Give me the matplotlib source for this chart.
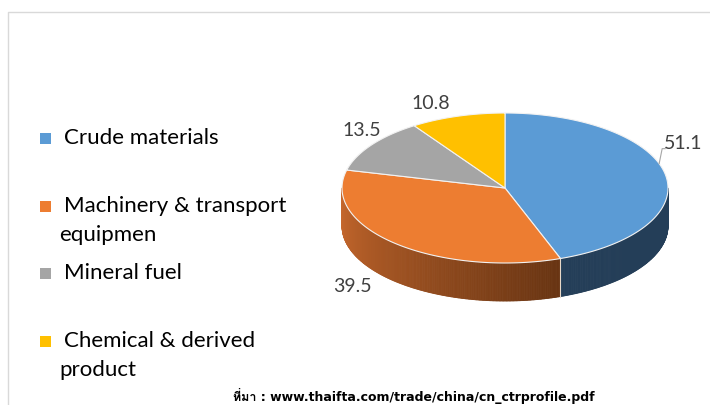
import numpy as np
import matplotlib.pyplot as plt
from matplotlib.patches import Polygon, Rectangle
from matplotlib.collections import PolyCollection
from matplotlib import font_manager
from matplotlib.ft2font import FT2Font

categories = ['Crude materials', 'Machinery & transport\nequipmen', 'Mineral fuel',
              'Chemical & derived\nproduct']
values = [51.1, 39.5, 13.5, 10.8]
value_labels = ['51.1', '39.5', '13.5', '10.8']
source = 'ที่มา : www.thaifta.com/trade/china/cn_ctrprofile.pdf'

top_colors = ['#5B9BD5', '#ED7D31', '#A5A5A5', '#FFC000']

# find a font that can draw thai
thai_font = None
for f in font_manager.fontManager.ttflist:
    try:
        if 0x0E17 in FT2Font(f.fname).get_charmap():
            thai_font = f.name
            break
    except Exception:
        pass
src_family = ['DejaVu Sans', thai_font] if thai_font else ['DejaVu Sans']

txt_font = 'Lato'

fig = plt.figure(figsize=(7.1, 4.05), dpi=100)
ax = fig.add_axes([0, 0, 1, 1])
ax.set_xlim(0, 710)
ax.set_ylim(405, 0)
ax.axis('off')

ax.plot([8, 8, 712], [406, 12, 12], color='#D9D9D9', lw=1)

cx, cy, a, b, depth = 505, 188, 163, 75, 38

def pt(t):
    r = np.radians(t)
    return cx + a * np.cos(r), cy - b * np.sin(r)

# clockwise from the top
fracs = np.array(values) / sum(values) * 360
starts = 90 - np.concatenate([[0], np.cumsum(fracs)[:-1]])
ends = starts - fracs

def which(t):
    for i in range(len(values)):
        tt = (t - ends[i]) % 360
        if tt <= fracs[i]:
            return i
    return 0

# side walls (front half)
ts = np.linspace(180, 360, 361)
polys, cols = [], []
orange_front_end = starts[1] % 360
for t0, t1 in zip(ts[:-1], ts[1:]):
    i = which((t0 + t1) / 2)
    x0, y0 = pt(t0)
    x1, y1 = pt(t1)
    polys.append([(x0, y0), (x1, y1), (x1, y1 + depth), (x0, y0 + depth)])
    if i == 1:
        f = np.clip(((t0 + t1) / 2 - 180) / (orange_front_end - 180), 0, 1)
        c0 = np.array([202, 106, 46]) / 255
        c1 = np.array([104, 52, 18]) / 255
        cols.append(tuple(c0 + (c1 - c0) * f))
    elif i == 0:
        cols.append('#243E58')
    else:
        cols.append(top_colors[i])
ax.add_collection(PolyCollection(polys, facecolors=cols, edgecolors=cols, linewidths=0.6))

# seam line on the wall
for e in ends:
    te = e % 360
    if 180 < te < 360:
        x, y = pt(te)
        ax.plot([x, x], [y, y + depth], color='#E8D8C8', lw=0.8)

# top faces
for i in range(len(values)):
    tt = np.linspace(starts[i], ends[i], 200)
    xs, ys = pt(tt)
    verts = [(cx, cy)] + list(zip(xs, ys))
    ax.add_patch(Polygon(verts, closed=True, facecolor=top_colors[i],
                         edgecolor='#F2F2F2', lw=0.8))

# data labels
offsets = [(18, -32), (-44, 43), (-10, -14), (-27, -13)]
for i in range(len(values)):
    mid = (starts[i] + ends[i]) / 2
    x, y = pt(mid)
    ax.text(x + offsets[i][0], y + offsets[i][1], value_labels[i], fontsize=14,
            family=txt_font, color='#404040', ha='center', va='center')
# leader line for the first label
x, y = pt((starts[0] + ends[0]) / 2 + 9)
ax.plot([x, x + 3, x + 6], [y, y - 15, y - 15], color='#A6A6A6', lw=0.8)

# legend
leg_y = [138, 206, 273, 341]
for i, lab in enumerate(categories):
    ax.add_patch(Rectangle((39.5, leg_y[i] - 5.5), 11.5, 11.5, facecolor=top_colors[i],
                           edgecolor='none'))
    lines = lab.split('\n')
    ax.text(64, leg_y[i], lines[0], fontsize=16, family=txt_font, color='black',
            va='center', ha='left')
    if len(lines) > 1:
        ax.text(59, leg_y[i] + 29, lines[1], fontsize=16, family=txt_font,
                color='black', va='center', ha='left')

ax.text(233, 404, source, fontsize=9, fontweight='bold', family=src_family,
        color='black', va='bottom', ha='left')

fig.savefig('out.png', dpi=100)
